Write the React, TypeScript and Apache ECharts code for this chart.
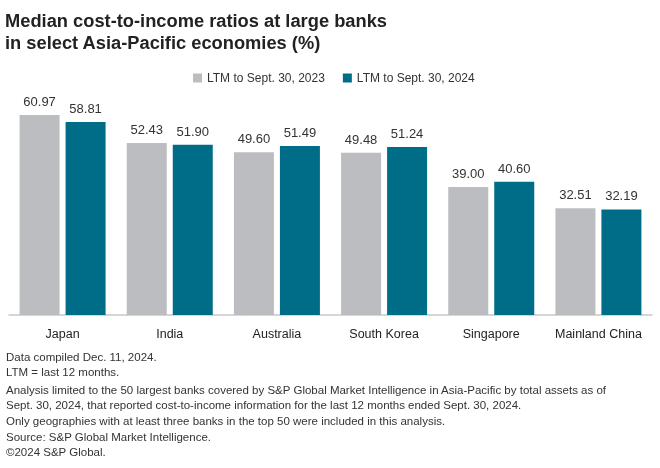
import React, { useEffect, useRef } from "react";
import * as echarts from "echarts";

const categories = ["Japan", "India", "Australia", "South Korea", "Singapore", "Mainland China"];
const series2023 = [60.97, 52.43, 49.6, 49.48, 39.0, 32.51];
const series2024 = [58.81, 51.9, 51.49, 51.24, 40.6, 32.19];
const seriesNames = ["LTM to Sept. 30, 2023", "LTM to Sept. 30, 2024"];
const titleLines = ["Median cost-to-income ratios at large banks", "in select Asia-Pacific economies (%)"];
const footnotes = [
  "Data compiled Dec. 11, 2024.",
  "LTM = last 12 months.",
  "Analysis limited to the 50 largest banks covered by S&P Global Market Intelligence in Asia-Pacific by total assets as of",
  "Sept. 30, 2024, that reported cost-to-income information for the last 12 months ended Sept. 30, 2024.",
  "Only geographies with at least three banks in the top 50 were included in this analysis.",
  "Source: S&P Global Market Intelligence.",
  "©2024 S&P Global.",
];
const footY = [357, 372, 390, 405, 421, 437, 452];

const FONT = "'Liberation Sans', Arial, sans-serif";

export default function App() {
  const ref = useRef<HTMLDivElement>(null);
  useEffect(() => {
    if (!ref.current) return;
    const chart = echarts.init(ref.current, null, { renderer: "svg" });
    const label = {
      show: true,
      position: "top",
      distance: 7,
      color: "#333",
      fontSize: 13,
      fontFamily: FONT,
      formatter: (p: any) => Number(p.value).toFixed(2),
    };
    chart.setOption({
      animation: false,
      textStyle: { fontFamily: FONT },
      title: {
        text: titleLines.join("\n"),
        left: 0,
        top: 5,
        padding: [5, 5, 5, 5],
        textStyle: { fontSize: 18.3, fontWeight: "bold", color: "#222", fontFamily: FONT, lineHeight: 21.5 },
      },
      legend: {
        top: 67,
        left: 188,
        itemWidth: 9,
        itemHeight: 9,
        itemGap: 18,
        icon: "rect",
        textStyle: { fontSize: 12, color: "#333", fontFamily: FONT },
        data: seriesNames,
      },
      grid: { left: 9, right: 8, top: 85.4, bottom: 153, containLabel: false },
      xAxis: {
        type: "category",
        data: categories,
        axisLine: { lineStyle: { color: "#c8c8c8", width: 1.5 } },
        axisTick: { show: false },
        axisLabel: { color: "#222", fontSize: 12.5, fontFamily: FONT, margin: 12, interval: 0 },
      },
      yAxis: {
        type: "value",
        min: 0,
        max: 70,
        show: false,
        splitLine: { show: false },
      },
      series: [
        {
          name: seriesNames[0],
          type: "bar",
          data: series2023,
          barWidth: 40,
          barGap: "15%",
          itemStyle: { color: "#bcbdc0" },
          label,
        },
        {
          name: seriesNames[1],
          type: "bar",
          data: series2024,
          barWidth: 40,
          itemStyle: { color: "#006d88" },
          label,
        },
      ],
      graphic: footnotes.map((t, i) => ({
        type: "text",
        left: 6,
        top: footY[i] - 6,
        style: { text: t, fontSize: 11.5, fill: "#333", fontFamily: FONT },
      })),
    });
    return () => chart.dispose();
  }, []);
  return <div ref={ref} style={{ position: "fixed", left: 0, top: 0, width: 660, height: 468 }} />;
}
